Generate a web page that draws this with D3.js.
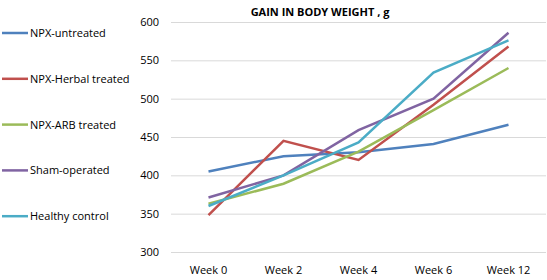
<html>
<head>
<script src="https://d3js.org/d3.v7.min.js"></script>
<style>
body { margin: 0; background: #fff; }
text { font-family: "Open Sans", sans-serif; fill: #000; }
.grid line { stroke: #d9d9d9; }
.grid .domain { display: none; }
</style>
</head>
<body>
<svg id="chart" width="547" height="280"></svg>
<script>
const weeks = ["Week 0", "Week 2", "Week 4", "Week 6", "Week 12"];
const seriesNames = ["NPX-untreated", "NPX-Herbal treated", "NPX-ARB treated", "Sham-operated", "Healthy control"];
const untreated = [405, 425, 430, 441, 466];
const herbal = [348, 445, 420, 492, 568];
const arb = [363, 389, 431, 485, 540];
const sham = [371, 400, 459, 500, 586];
const healthy = [360, 400, 443, 534, 576];
const yTicks = [300, 350, 400, 450, 500, 550, 600];
const colors = ["#4F81BD", "#C0504D", "#9BBB59", "#8064A2", "#4BACC6"];

const allSeries = [untreated, herbal, arb, sham, healthy];

const svg = d3.select("#chart");

const x = d3.scaleBand().domain(weeks).range([171, 546]);
const y = d3.scaleLinear().domain([300, 600]).range([252, 22]);

// gridlines
svg.append("g")
    .attr("class", "grid")
    .attr("transform", "translate(171,0)")
    .call(d3.axisLeft(y).tickValues(yTicks).tickSize(-375).tickFormat(""));

// y labels
svg.append("g").selectAll("text")
    .data(yTicks)
    .join("text")
    .attr("x", 159)
    .attr("y", d => y(d) + 4)
    .attr("text-anchor", "end")
    .attr("font-size", 11)
    .text(d => d);

// x labels
svg.append("g").selectAll("text")
    .data(weeks)
    .join("text")
    .attr("x", d => x(d) + x.bandwidth() / 2)
    .attr("y", 274)
    .attr("text-anchor", "middle")
    .attr("font-size", 11)
    .text(d => d);

// lines
const line = d3.line()
    .x((d, i) => x(weeks[i]) + x.bandwidth() / 2)
    .y(d => y(d));

svg.append("g").selectAll("path")
    .data(allSeries)
    .join("path")
    .attr("d", line)
    .attr("fill", "none")
    .attr("stroke", (d, i) => colors[i])
    .attr("stroke-width", 2.5);

// title
svg.append("text")
    .attr("x", 320)
    .attr("y", 16)
    .attr("text-anchor", "middle")
    .attr("font-size", 11)
    .attr("font-weight", "bold")
    .text("GAIN IN BODY WEIGHT , g");

// legend
const legend = svg.append("g").selectAll("g")
    .data(seriesNames)
    .join("g")
    .attr("transform", (d, i) => "translate(2," + (33 + i * 45.8) + ")");

legend.append("line")
    .attr("x1", 0).attr("x2", 26)
    .attr("stroke", (d, i) => colors[i])
    .attr("stroke-width", 2.5);

legend.append("text")
    .attr("x", 28)
    .attr("y", 4)
    .attr("font-size", 11)
    .text(d => d);
</script>
</body>
</html>
